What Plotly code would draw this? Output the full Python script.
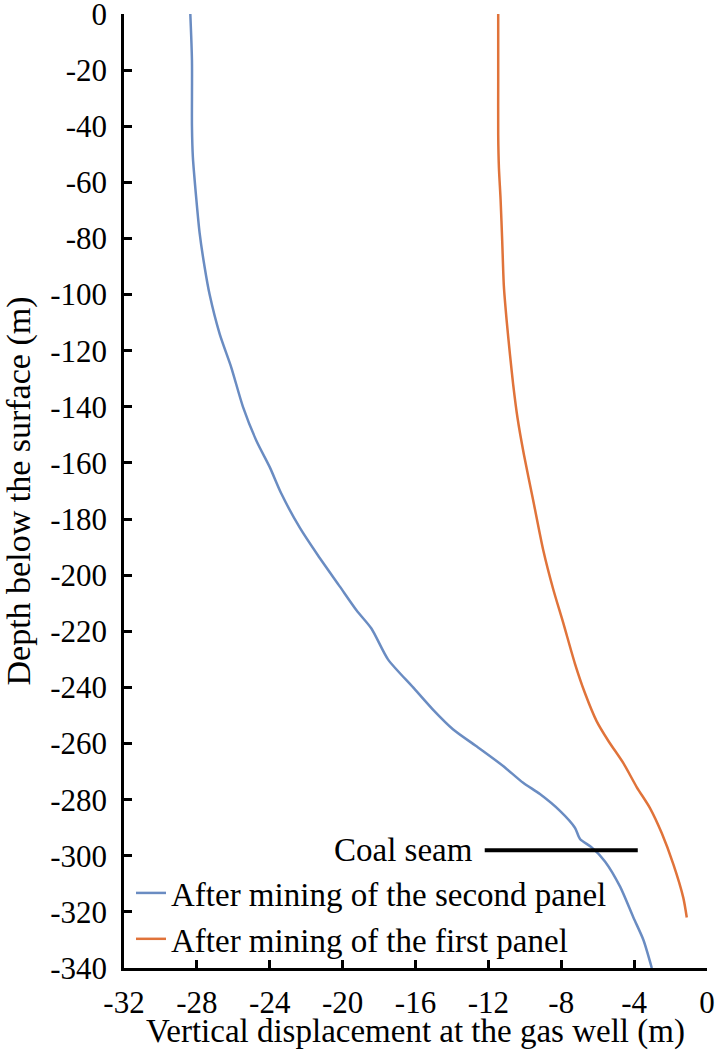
import plotly.graph_objects as go

# ---- data ----
second_depth = [0, -16.6, -40, -51, -66, -78, -90, -100, -114, -126, -140, -152, -161.5, -171,
                -183, -193, -204, -212.5, -219, -230, -240, -248, -255, -261, -268, -274, -278,
                -284, -290, -294, -297, -302, -311, -322, -330, -340]
second_disp = [-28.36, -28.27, -28.27, -28.22, -28.03, -27.85, -27.58, -27.30, -26.75, -26.11,
               -25.47, -24.74, -24.0, -23.36, -22.36, -21.35, -20.16, -19.24, -18.42, -17.51,
               -16.13, -15.03, -13.93, -12.65, -11.19, -10.09, -9.17, -8.07, -7.25, -6.97,
               -6.33, -5.60, -4.77, -4.04, -3.49, -3.03]

first_depth = [0, -24, -43, -55, -66, -81, -97, -109, -121, -132, -144, -157, -173, -191, -205,
               -217, -231.5, -242, -252, -259, -267, -275.5, -283, -292, -303, -315, -322]
first_disp = [-11.46, -11.46, -11.46, -11.42, -11.33, -11.24, -11.15, -11.0, -10.82, -10.64,
              -10.40, -10.05, -9.55, -8.99, -8.44, -7.89, -7.25, -6.70, -6.06, -5.42, -4.59,
              -3.86, -3.13, -2.48, -1.85, -1.30, -1.11]

coal_seam_x = [-12.2, -3.8]
coal_seam_depth = [-298, -298]
coal_seam_label = "Coal seam"

series_names = ["After mining of the second panel", "After mining of the first panel"]

x_tickvals = [-32, -28, -24, -20, -16, -12, -8, -4, 0]
x_ticktext = ["-32", "-28", "-24", "-20", "-16", "-12", "-8", "-4", "0"]
y_tickvals = [0, -20, -40, -60, -80, -100, -120, -140, -160, -180, -200, -220, -240, -260,
              -280, -300, -320, -340]
y_ticktext = ["0", "-20", "-40", "-60", "-80", "-100", "-120", "-140", "-160", "-180", "-200",
              "-220", "-240", "-260", "-280", "-300", "-320", "-340"]

x_title = "Vertical displacement at the gas well (m)"
y_title = "Depth below the surface (m)"

# ---- figure ----
FONT = "Liberation Serif"
BLUE = "#6A8CC2"
ORANGE = "#E0733A"

fig = go.Figure()
fig.add_trace(go.Scatter(x=second_disp, y=second_depth, mode="lines", name=series_names[0],
                         line=dict(color=BLUE, width=2.5, shape="spline", smoothing=0.7)))
fig.add_trace(go.Scatter(x=first_disp, y=first_depth, mode="lines", name=series_names[1],
                         line=dict(color=ORANGE, width=2.5, shape="spline", smoothing=0.7)))
fig.add_trace(go.Scatter(x=coal_seam_x, y=coal_seam_depth, mode="lines", showlegend=False,
                         line=dict(color="black", width=4), hoverinfo="skip"))

fig.add_annotation(x=coal_seam_x[0] - 0.55, y=coal_seam_depth[0], text=coal_seam_label,
                   showarrow=False, xanchor="right", yanchor="middle",
                   font=dict(family=FONT, size=33, color="black"))

axis_common = dict(showgrid=False, zeroline=False, showline=True, linecolor="black",
                   linewidth=2.5, ticks="inside", ticklen=8, tickwidth=2.5, tickcolor="black",
                   ticklabeloverflow="allow",
                   tickfont=dict(family=FONT, size=31, color="black"))

fig.update_layout(
    width=716, height=1050,
    paper_bgcolor="white", plot_bgcolor="white",
    margin=dict(l=124, r=9, t=14, b=82, autoexpand=False),
    font=dict(family=FONT, color="black"),
    xaxis=dict(range=[-32, 0], tickmode="array", tickvals=x_tickvals, ticktext=x_ticktext,
               ticklabelstandoff=5,
               title=dict(text=x_title, font=dict(family=FONT, size=33, color="black"), standoff=10),
               **axis_common),
    yaxis=dict(range=[-340, 0], tickmode="array", tickvals=y_tickvals, ticktext=y_ticktext,
               ticklabelstandoff=8,
               title=dict(text=y_title, font=dict(family=FONT, size=34, color="black"), standoff=10),
               **axis_common),
    legend=dict(x=0.012, y=0.108, xanchor="left", yanchor="top", bgcolor="rgba(0,0,0,0)",
                font=dict(family=FONT, size=33, color="black"), tracegroupgap=0),
    showlegend=True,
)

fig.write_html("out.html", config={"displayModeBar": False},
               post_script="document.body.style.margin='0';document.body.style.padding='0';")
